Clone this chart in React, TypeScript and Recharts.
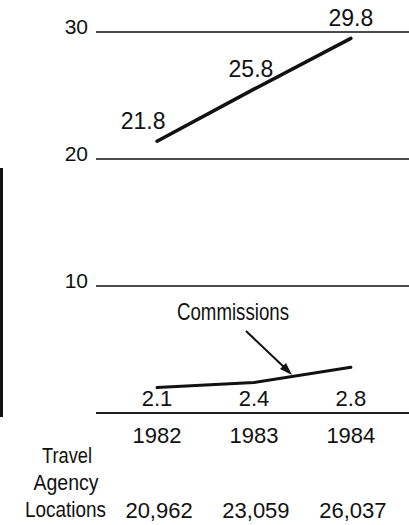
import { LineChart, Line, XAxis, YAxis, CartesianGrid, ReferenceLine } from "recharts";

// years on the x axis
const years = [1982, 1983, 1984];
// heights of the two lines as drawn
const upperSeries = [21.4, 25.5, 29.5];
const commissions = [2.0, 2.4, 3.6];
// printed value labels
const upperLabels = ["21.8", "25.8", "29.8"];
const commissionLabels = ["2.1", "2.4", "2.8"];
// travel agency locations under each year
const locations = ["20,962", "23,059", "26,037"];
const yTicks = [10, 20, 30];

const data = years.map((year, i) => ({
    year,
    upper: upperSeries[i],
    commissions: commissions[i],
}));

const W = 409;
const H = 525;
const X_AXIS_H = 112;
const MARGIN = { top: 32, right: 0, bottom: 0, left: 0 };
const PLOT_BOTTOM = H - X_AXIS_H;

const NUM_FONT = "'Liberation Sans', Arial, Helvetica, sans-serif";
const INK = "#111";

// nudges so the labels sit where the printed ones do
const upperShift = [-14, -3, 0];

const YTick = (props: any) => {
    const { x, y, payload } = props;
    return (
        <text x={x} y={y + 2} textAnchor="end" fontSize={21} fontFamily={NUM_FONT} fill={INK}>
            {payload.value}
        </text>
    );
};

const XTick = (props: any) => {
    const { x, y, index } = props;
    return (
        <g>
            <text x={x} y={y + 30} textAnchor="middle" fontSize={22} fontFamily={NUM_FONT} fill={INK}>
                {years[index]}
            </text>
            <text x={x + 2} y={y + 105} textAnchor="middle" fontSize={22} fontFamily={NUM_FONT} fill={INK}>
                {locations[index]}
            </text>
        </g>
    );
};

const upperLabel = (props: any) => {
    const { x, y, index } = props;
    return (
        <text x={x + upperShift[index]} y={y - 12} textAnchor="middle" fontSize={23} fontFamily={NUM_FONT} fill={INK}>
            {upperLabels[index]}
        </text>
    );
};

const commissionLabel = (props: any) => {
    const { x, index } = props;
    return (
        <text x={x} y={PLOT_BOTTOM - 7} textAnchor="middle" fontSize={22} fontFamily={NUM_FONT} fill={INK}>
            {commissionLabels[index]}
        </text>
    );
};

const Narrow = ({ x, y, w, size, children }: any) => (
    <text
        x={x - w / 2}
        y={y}
        textLength={w}
        lengthAdjust="spacingAndGlyphs"
        fontSize={size}
        fontFamily={NUM_FONT}
        fill={INK}
    >
        {children}
    </text>
);

export default function App() {
    return (
        <div style={{ position: "relative", width: W, height: H, background: "#fff" }}>
            <style>{"body{margin:0;background:#fff}"}</style>
            <LineChart width={W} height={H} data={data} margin={MARGIN}>
                <CartesianGrid horizontal vertical={false} stroke={INK} strokeWidth={1.7} />
                <ReferenceLine y={0} stroke={INK} strokeWidth={1.7} />
                <XAxis
                    dataKey="year"
                    type="number"
                    domain={[1981.37, 1984.6]}
                    ticks={years}
                    allowDataOverflow
                    axisLine={false}
                    tickLine={false}
                    tickSize={0}
                    tickMargin={0}
                    tick={<XTick />}
                    height={X_AXIS_H}
                />
                <YAxis
                    domain={[0, 30]}
                    ticks={yTicks}
                    axisLine={false}
                    tickLine={false}
                    tickSize={0}
                    tickMargin={8}
                    width={96}
                    tick={<YTick />}
                />
                <Line
                    dataKey="upper"
                    stroke={INK}
                    strokeWidth={3.5}
                    strokeLinecap="round"
                    dot={false}
                    type="linear"
                    label={upperLabel}
                    isAnimationActive={false}
                />
                <Line
                    dataKey="commissions"
                    stroke={INK}
                    strokeWidth={3}
                    strokeLinecap="round"
                    dot={false}
                    type="linear"
                    label={commissionLabel}
                    isAnimationActive={false}
                />
            </LineChart>
            <svg width={W} height={H} style={{ position: "absolute", left: 0, top: 0, pointerEvents: "none" }}>
                <rect x={0} y={168} width={3} height={249} fill={INK} />
                <Narrow x={233} y={320} w={112} size={24}>Commissions</Narrow>
                <line x1={246} y1={331} x2={286} y2={369} stroke={INK} strokeWidth={2} />
                <polygon points="292,375 280,369 286,363" fill={INK} />
                <Narrow x={67} y={463} w={50} size={22}>Travel</Narrow>
                <Narrow x={66} y={490} w={65} size={22}>Agency</Narrow>
                <Narrow x={65.5} y={517} w={81} size={22}>Locations</Narrow>
            </svg>
        </div>
    );
}
